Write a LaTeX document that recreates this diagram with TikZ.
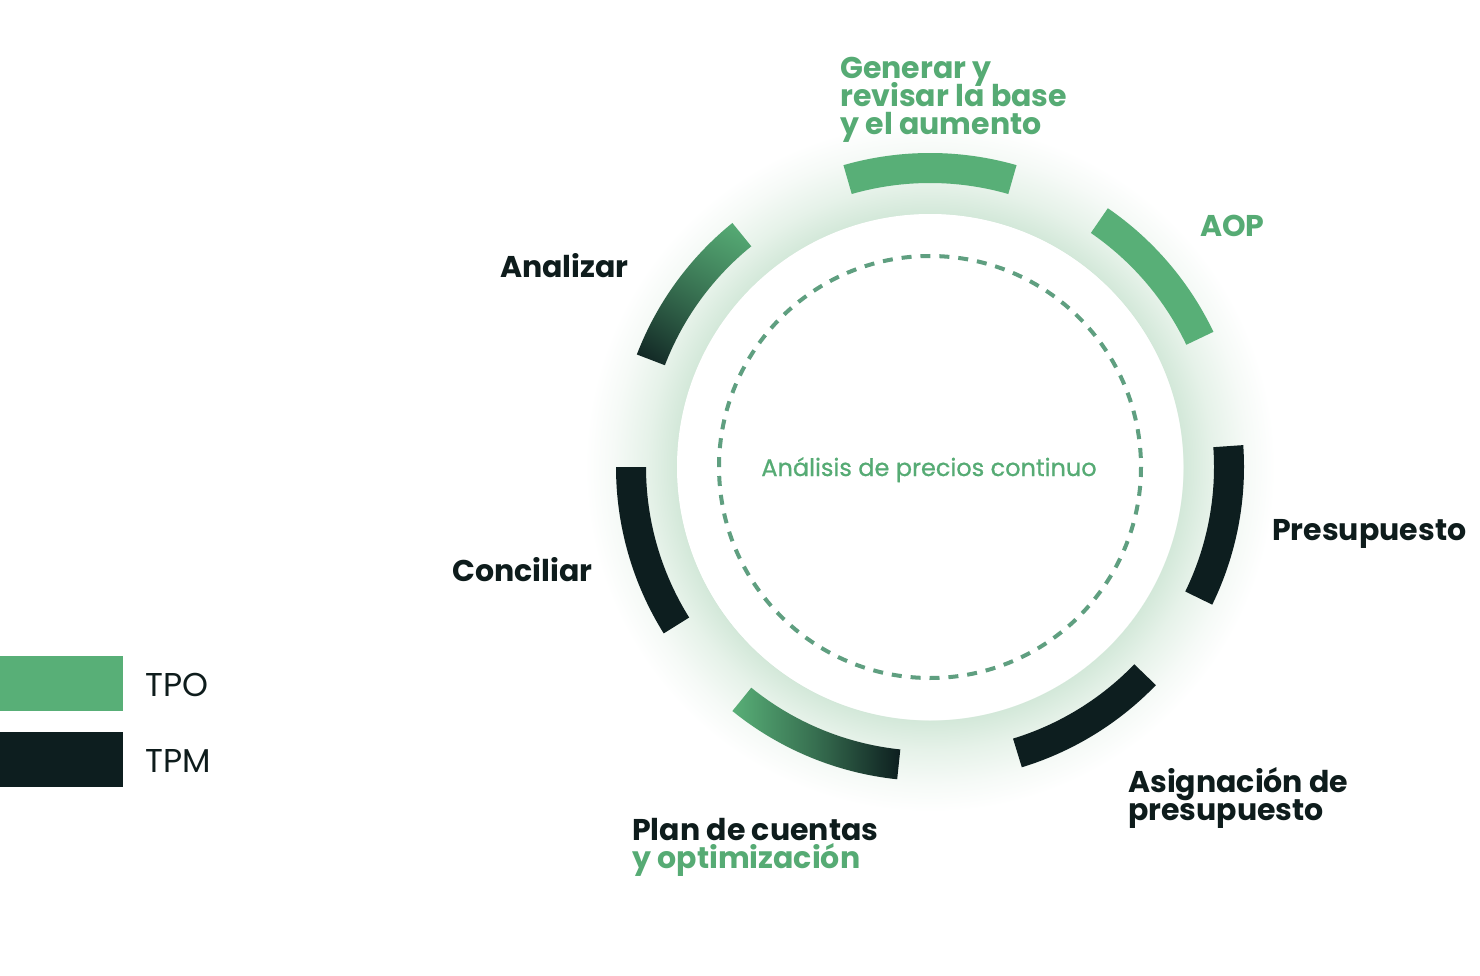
\documentclass[tikz,border=0pt]{standalone}
\usepackage{fontspec}
\setmainfont{Poppins}
\newfontfamily\medfont{Poppins}[FakeBold=0.8]
\usetikzlibrary{shadings}
\definecolor{tpo}{HTML}{58AF77}
\definecolor{tpm}{HTML}{0D1E1F}
\definecolor{txtg}{HTML}{56AB74}
\definecolor{txtd}{HTML}{0E1C1C}
\definecolor{dashc}{HTML}{5F9F80}
\definecolor{glowa}{HTML}{D3E8D9}
\definecolor{glowb}{HTML}{E6F2E9}
\definecolor{glowc}{HTML}{F6FAF7}
\colorlet{mixa}{tpo!80!tpm}
\colorlet{mixb}{tpo!45!tpm}
\pgfdeclareradialshading{glowshade}{\pgfpoint{0bp}{0bp}}{color(0bp)=(white); color(18.3bp)=(white); color(18.35bp)=(glowa); color(20.5bp)=(glowb); color(23bp)=(glowc); color(25bp)=(white); color(50bp)=(white)}
\begin{document}
\begin{tikzpicture}[x=1pt,y=-1pt,
  lbl/.style={font=\fontsize{30}{28}\selectfont\bfseries, inner sep=0pt, anchor=base west},
  leg/.style={font=\fontsize{33}{33}\selectfont, inner sep=0pt, anchor=base west, text=txtd}]
\useasboundingbox[fill=white] (0,0) rectangle (1480,976);
% glow and white disk
\shade[shading=glowshade] (930,467) circle (345);
\fill[white] (930,467) circle (253);
% dashed circle
\draw[dashc, line width=4, dash pattern=on 10 off 8.94] (930,467) circle (211);
% arcs
\begin{scope}[shift={(930,467)}, y=1pt]
  \fill[tpo] (74:314) arc[start angle=74, end angle=106, radius=314] -- (106:284) arc[start angle=106, end angle=74, radius=284] -- cycle;
  \fill[tpo] (25.5:314) arc[start angle=25.5, end angle=55.5, radius=314] -- (55.5:284) arc[start angle=55.5, end angle=25.5, radius=284] -- cycle;
  \fill[tpm] (-26:314) arc[start angle=-26, end angle=4, radius=314] -- (4:284) arc[start angle=4, end angle=-26, radius=284] -- cycle;
  \fill[tpm] (-73:314) arc[start angle=-73, end angle=-44, radius=314] -- (-44:284) arc[start angle=-44, end angle=-73, radius=284] -- cycle;
  \shade[left color=tpo, right color=tpm, middle color=tpo!55!tpm] (231:314) arc[start angle=231, end angle=264, radius=314] -- (264:284) arc[start angle=264, end angle=231, radius=284] -- cycle;
  \fill[tpm] (180:314) arc[start angle=180, end angle=212, radius=314] -- (212:284) arc[start angle=212, end angle=180, radius=284] -- cycle;
  \shade[upper right=tpo, lower left=tpm, upper left=mixa, lower right=mixb] (129:314) arc[start angle=129, end angle=159, radius=314] -- (159:284) arc[start angle=159, end angle=129, radius=284] -- cycle;
\end{scope}
% center label
\node[font=\medfont\fontsize{24}{24}\selectfont, text=txtg, inner sep=0pt, anchor=base] (center) at (929,476) {Análisis de precios continuo};
% labels
\node[lbl, text=txtg] (gen1) at (840,79) {Generar y};
\node[lbl, text=txtg] (gen2) at (840,107) {revisar la base};
\node[lbl, text=txtg] (gen3) at (840,135) {y el aumento};
\node[lbl, text=txtg] (aop) at (1200,237) {AOP};
\node[lbl, text=txtd] (anal) at (500,277) {Analizar};
\node[lbl, text=txtd] (pres) at (1272,540) {Presupuesto};
\node[lbl, text=txtd] (conc) at (452,581) {Conciliar};
\node[lbl, text=txtd] (asig1) at (1128,792) {Asignación de};
\node[lbl, text=txtd] (asig2) at (1128,820) {presupuesto};
\node[lbl, text=txtd] (plan1) at (632,840) {Plan de cuentas};
\node[lbl, text=txtg] (plan2) at (632,868) {y optimización};
% legend
\fill[tpo] (0,656) rectangle (123,711);
\fill[tpm] (0,732) rectangle (123,787);
\node[leg] (tpolbl) at (145,696) {TPO};
\node[leg] (tpmlbl) at (145,772) {TPM};
\end{tikzpicture}
\end{document}
